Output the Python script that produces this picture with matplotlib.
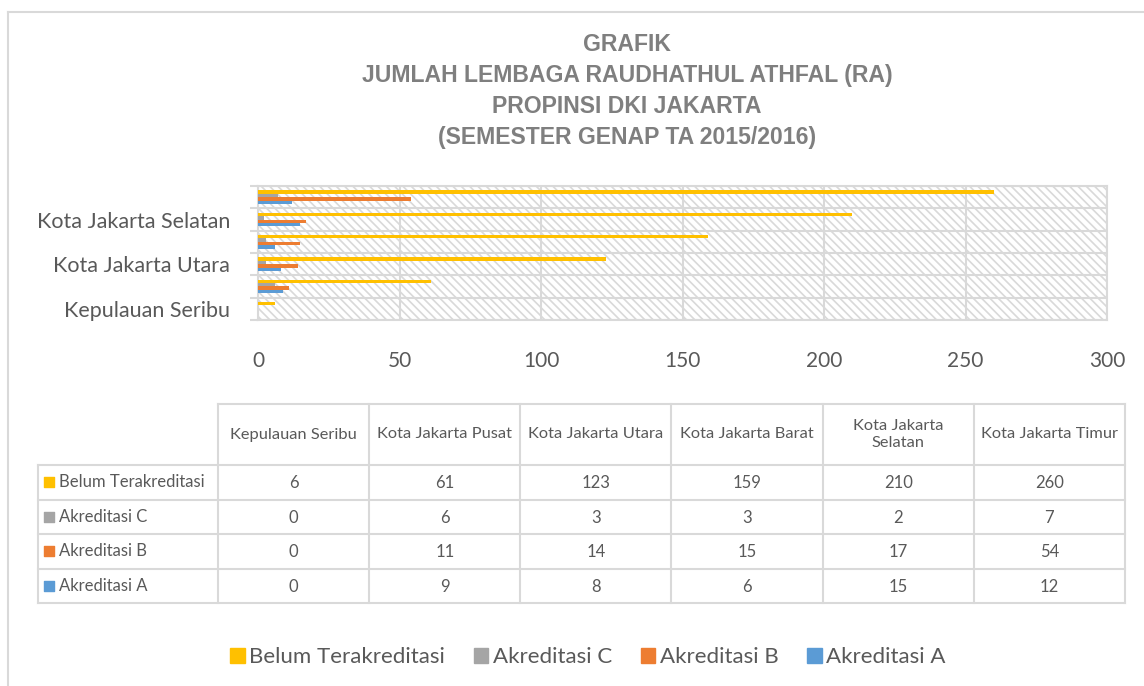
import matplotlib.pyplot as plt
from matplotlib.patches import Rectangle
import numpy as np

plt.rcParams['font.family'] = ['Lato', 'DejaVu Sans']
plt.rcParams['hatch.linewidth'] = 1.2

regions = ['Kepulauan Seribu', 'Kota Jakarta Pusat', 'Kota Jakarta Utara',
           'Kota Jakarta Barat', 'Kota Jakarta Selatan', 'Kota Jakarta Timur']
belum = [6, 61, 123, 159, 210, 260]
akr_c = [0, 6, 3, 3, 2, 7]
akr_b = [0, 11, 14, 15, 17, 54]
akr_a = [0, 9, 8, 6, 15, 12]

series_names = ['Belum Terakreditasi', 'Akreditasi C', 'Akreditasi B', 'Akreditasi A']
series_vals = [belum, akr_c, akr_b, akr_a]
colors = ['#FFC000', '#A5A5A5', '#ED7D31', '#5B9BD5']

TXT = '#595959'
GRID = '#D9D9D9'
W, H = 1144, 686

fig = plt.figure(figsize=(W / 100, H / 100), dpi=100)

# outer chart border (top and left visible)
fig.add_artist(plt.Line2D([8 / W, 1], [1 - 12 / H, 1 - 12 / H], color=GRID, lw=1.5))
fig.add_artist(plt.Line2D([8 / W, 8 / W], [0, 1 - 12 / H], color=GRID, lw=1.5))

fig.text(627 / W, 1 - 91 / H,
         'GRAFIK\nJUMLAH LEMBAGA RAUDHATHUL ATHFAL (RA)\nPROPINSI DKI JAKARTA\n(SEMESTER GENAP TA 2015/2016)',
         ha='center', va='center', fontsize=16.6, fontweight='bold', color='#7F7F7F',
         family='Liberation Sans', linespacing=1.45)

# bar chart
ax = fig.add_axes([258 / W, 1 - 320 / H, (1107 - 258) / W, 134 / H])
ax.add_patch(Rectangle((0, 0), 1, 1, transform=ax.transAxes, facecolor='white',
                       edgecolor=GRID, hatch='\\\\\\\\', lw=0, zorder=0))
y = np.arange(len(regions))
bh = 0.15
offsets = [1.5, 0.5, -0.5, -1.5]
for vals, col, off in zip(series_vals, colors, offsets):
    ax.barh(y + off * bh, vals, height=bh, color=col, zorder=3)

ax.set_xlim(0, 300)
ax.set_ylim(-0.5, 5.5)
ax.set_xticks(range(0, 301, 50))
ax.set_yticks([0, 2, 4])
ax.set_yticklabels([regions[0], regions[2], regions[4]])
ax.set_yticks(np.arange(-0.5, 6, 1), minor=True)
ax.tick_params(axis='x', length=0, pad=22, labelsize=15, labelcolor=TXT)
ax.tick_params(axis='y', which='major', length=0, pad=20, labelsize=15.5, labelcolor=TXT)
ax.tick_params(axis='y', which='minor', length=6, width=1.5, color=GRID)
ax.grid(axis='x', color=GRID, lw=1.5, zorder=1)
ax.grid(axis='y', which='minor', color=GRID, lw=1.5, zorder=1)
ax.set_axisbelow(True)
for s in ax.spines.values():
    s.set_color(GRID)
    s.set_linewidth(1.5)

# data table
tx0, tx1, ty0, ty1 = 38, 1125, 404, 603
tab = fig.add_axes([tx0 / W, 1 - ty1 / H, (tx1 - tx0) / W, (ty1 - ty0) / H])
lab_w = 180 / 151.2
hdr_h = 61 / 34.5
tab.set_xlim(-lab_w, 6)
tab.set_ylim(0, 4 + hdr_h)
tab.axis('off')
lk = dict(color=GRID, lw=1.5, clip_on=False)
# horizontal lines
tab.plot([0, 6], [4 + hdr_h, 4 + hdr_h], **lk)
for r in range(5):
    tab.plot([-lab_w, 6], [r, r], **lk)
# vertical lines
tab.plot([-lab_w, -lab_w], [0, 4], **lk)
for c in range(7):
    tab.plot([c, c], [0, 4 + hdr_h], **lk)
for c, name in enumerate(regions):
    label = 'Kota Jakarta\nSelatan' if name == 'Kota Jakarta Selatan' else name
    tab.text(c + 0.5, 4 + hdr_h / 2, label, ha='center', va='center',
             fontsize=11.8, color=TXT, linespacing=1.3)
for r, (name, vals, col) in enumerate(zip(series_names, series_vals, colors)):
    yc = 3.5 - r
    tab.scatter([-lab_w + 0.07], [yc], marker='s', s=62, color=col, clip_on=False)
    tab.text(-lab_w + 0.14, yc, name, ha='left', va='center', fontsize=12, color=TXT)
    for c, v in enumerate(vals):
        tab.text(c + 0.5, yc - 0.03, str(v), ha='center', va='center', fontsize=12, color=TXT)

# legend
handles = [Rectangle((0, 0), 1, 1, color=c) for c in colors]
fig.legend(handles, series_names, loc='center', bbox_to_anchor=(588 / W, 1 - 657 / H),
           ncol=4, frameon=False, fontsize=16, labelcolor=TXT,
           handlelength=0.65, handleheight=0.65, handletextpad=0.2, columnspacing=1.3)

fig.savefig('out.png', dpi=100)
